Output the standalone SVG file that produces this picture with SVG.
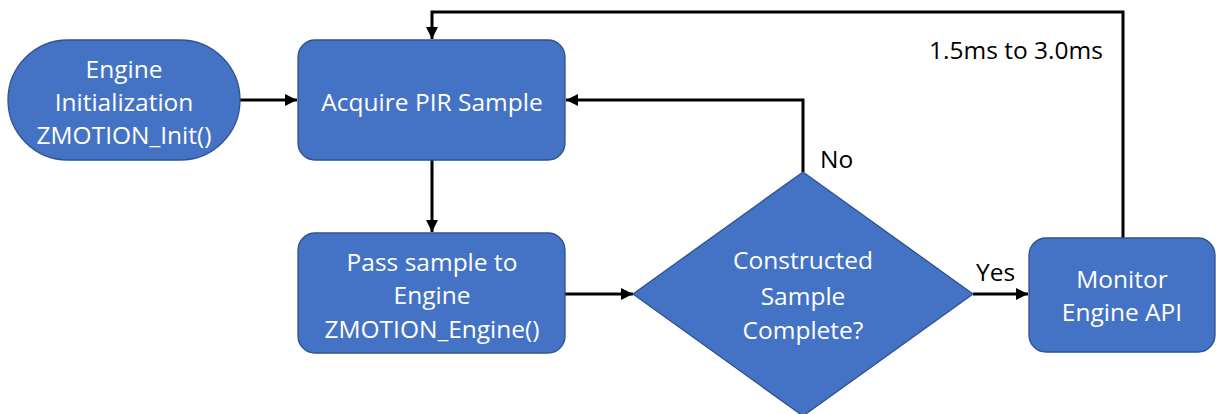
<svg xmlns="http://www.w3.org/2000/svg" width="1216" height="414" viewBox="0 0 1216 414">
<style>
.node{fill:#4472C4;stroke:#2F528F;stroke-width:1.3}
.t{font-family:"Open Sans","Liberation Sans",sans-serif;font-size:24.5px;fill:#fff;text-anchor:middle}
.l{font-family:"Open Sans","Liberation Sans",sans-serif;font-size:24.5px;fill:#000}
.c{fill:none;stroke:#000;stroke-width:3}
</style>
<defs>
<marker id="ah" viewBox="0 0 10 10" refX="10" refY="5" markerWidth="4" markerHeight="4" orient="auto" markerUnits="strokeWidth">
<path d="M0,0 L10,5 L0,10 z" fill="#000"/>
</marker>
</defs>
<rect width="1216" height="414" fill="#fff"/>
<g id="connectors">
<path class="c" d="M240,100 L297,100" marker-end="url(#ah)"/>
<path class="c" d="M1123,238 L1123,12 L432,12 L432,39" marker-end="url(#ah)"/>
<path class="c" d="M432,160 L432,232" marker-end="url(#ah)"/>
<path class="c" d="M565,294 L633,294" marker-end="url(#ah)"/>
<path class="c" d="M803,172 L803,100 L566,100" marker-end="url(#ah)"/>
<path class="c" d="M973,294 L1028,294" marker-end="url(#ah)"/>
<text class="l" x="820" y="168">No</text>
<text class="l" x="976" y="281">Yes</text>
<text class="l" x="929" y="59">1.5ms to 3.0ms</text>
</g>
<g id="init">
<rect class="node" x="8" y="40" width="232" height="120" rx="60" ry="60"/>
<text class="t" x="124" y="78">Engine</text>
<text class="t" x="124" y="111">Initialization</text>
<text class="t" x="124" y="144">ZMOTION_Init()</text>
</g>
<g id="acquire">
<rect class="node" x="298" y="40" width="267" height="120" rx="17"/>
<text class="t" x="432" y="111">Acquire PIR Sample</text>
</g>
<g id="pass">
<rect class="node" x="298" y="233" width="267" height="120" rx="17"/>
<text class="t" x="432" y="271">Pass sample to</text>
<text class="t" x="432" y="304">Engine</text>
<text class="t" x="432" y="338">ZMOTION_Engine()</text>
</g>
<g id="decision">
<polygon class="node" points="803,172 973,294 803,416 633,294"/>
<text class="t" x="803" y="269">Constructed</text>
<text class="t" x="803" y="305">Sample</text>
<text class="t" x="803" y="339">Complete?</text>
</g>
<g id="monitor">
<rect class="node" x="1029" y="238" width="186" height="114" rx="17"/>
<text class="t" x="1122" y="288">Monitor</text>
<text class="t" x="1122" y="321">Engine API</text>
</g>
</svg>
